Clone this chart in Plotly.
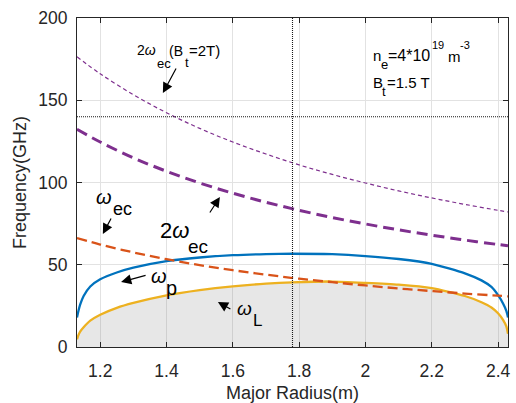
import plotly.graph_objects as go

# ---------------- data ----------------
# major radius samples for the plasma-frequency / L-cutoff curves
R_pl = [1.13, 1.135, 1.14, 1.15, 1.17, 1.2, 1.25, 1.3, 1.4, 1.5, 1.6, 1.7, 1.78,
        1.9, 2.0, 2.1, 2.2, 2.3, 2.35, 2.38, 2.40, 2.415, 2.425, 2.43]
f_p = [18.0, 22.5, 26.0, 31.0, 36.8, 41.2, 45.3, 48.2, 52.2, 54.4, 55.8, 56.5, 56.7,
       56.4, 55.3, 53.5, 50.6, 44.8, 40.5, 36.5, 31.5, 26.5, 22.0, 18.0]
f_L = [4.7, 7.5, 9.5, 12.0, 16.0, 19.6, 23.8, 26.8, 31.4, 34.6, 36.9, 38.5, 39.3,
       39.8, 39.0, 37.9, 35.8, 31.0, 27.2, 24.0, 20.5, 16.5, 12.5, 8.0]

# major radius samples for the cyclotron curves
R_ec = [1.13, 1.2, 1.3, 1.4, 1.5, 1.6, 1.7, 1.8, 1.9, 2.0, 2.1, 2.2, 2.3, 2.4, 2.43]
f_ec = [66.2, 62.3, 57.5, 53.4, 49.8, 46.7, 44.0, 41.5, 39.4, 37.4, 35.6, 34.0, 32.5, 31.2, 30.8]
f_2ec = [132.3, 124.6, 115.0, 106.8, 99.7, 93.5, 88.0, 83.1, 78.7, 74.8, 71.2, 68.0, 65.0, 62.3, 61.5]
f_2ec_2T = [176.4, 166.1, 153.4, 142.4, 132.9, 124.6, 117.3, 110.7, 104.9, 99.7, 94.9, 90.6, 86.7, 83.1, 82.1]

R0 = 1.78          # vertical dotted line
f_source = 140     # horizontal dotted line
x_range = [1.13, 2.43]
y_range = [0, 200]

x_ticks = [1.2, 1.4, 1.6, 1.8, 2.0, 2.2, 2.4]
x_ticklabels = ["1.2", "1.4", "1.6", "1.8", "2", "2.2", "2.4"]
y_ticks = [0, 50, 100, 150, 200]
y_ticklabels = ["0", "50", "100", "150", "200"]

# ---------------- styling ----------------
FONT = "Liberation Sans, Arial, Helvetica, sans-serif"
AX = "#262626"
BLUE = "#0072BD"
ORANGE = "#D95319"
YELLOW = "#EDB120"
PURPLE = "#7E2F8E"

fig = go.Figure()

# gray fill under the L-cutoff
fig.add_trace(go.Scatter(x=R_pl, y=f_L, mode="lines", line=dict(width=0, shape="spline", smoothing=0.6),
                         fill="tozeroy", fillcolor="rgba(120,120,120,0.18)", hoverinfo="skip"))
fig.add_trace(go.Scatter(x=R_pl, y=f_p, mode="lines",
                         line=dict(color=BLUE, width=2.3, shape="spline", smoothing=0.6)))
fig.add_trace(go.Scatter(x=R_pl, y=f_L, mode="lines",
                         line=dict(color=YELLOW, width=2.3, shape="spline", smoothing=0.6)))
fig.add_trace(go.Scatter(x=R_ec, y=f_ec, mode="lines",
                         line=dict(color=ORANGE, width=2.3, dash="10px,5px", shape="spline")))
fig.add_trace(go.Scatter(x=R_ec, y=f_2ec, mode="lines",
                         line=dict(color=PURPLE, width=3, dash="11px,6px", shape="spline")))
fig.add_trace(go.Scatter(x=R_ec, y=f_2ec_2T, mode="lines",
                         line=dict(color=PURPLE, width=1.2, dash="4px,3px", shape="spline")))
fig.add_trace(go.Scatter(x=[R0, R0], y=y_range, mode="lines",
                         line=dict(color="#1a1a1a", width=1.1, dash="1px,1px")))
fig.add_trace(go.Scatter(x=x_range, y=[f_source, f_source], mode="lines",
                         line=dict(color="#1a1a1a", width=1.1, dash="1px,1px")))

axis_common = dict(
    ticks="inside", ticklen=5, tickwidth=1, tickcolor=AX,
    showline=True, linecolor=AX, linewidth=1, mirror="ticks",
    showgrid=True, gridcolor="#E2E2E2", gridwidth=1, zeroline=False,
    automargin=False,
    tickfont=dict(family=FONT, size=17.5, color=AX),
)

fig.update_layout(
    width=516, height=403,
    margin=dict(l=77, r=8, t=18, b=56),
    paper_bgcolor="white", plot_bgcolor="white",
    showlegend=False,
    xaxis=dict(range=x_range, tickvals=x_ticks, ticktext=x_ticklabels,
               ticklabelstandoff=8,
               title=dict(text="Major Radius(m)", font=dict(family=FONT, size=18, color=AX), standoff=20),
               **axis_common),
    yaxis=dict(range=y_range, tickvals=y_ticks, ticktext=y_ticklabels,
               ticklabelstandoff=5,
               title=dict(text="Frequency(GHz)", font=dict(family=FONT, size=18, color=AX), standoff=6),
               **axis_common),
)


def add_label(x, y, pieces):
    for text, dx, dy, size in pieces:
        fig.add_annotation(x=x, y=y, text=text, xshift=dx, yshift=dy, xanchor="left", yanchor="middle",
                           showarrow=False, borderpad=0, borderwidth=0,
                           font=dict(family=FONT, size=size, color="black"))


def add_arrow(x, y, ax, ay):
    fig.add_annotation(x=x, y=y, ax=ax, ay=ay, text="", showarrow=True, arrowhead=2,
                       arrowsize=1.7, arrowwidth=1.2, arrowcolor="black", standoff=0)


# text labels
add_label(1.311, 180.5, [("2<i>ω</i>", 0, 0, 14), ("ec", 20, -13, 13), ("(B", 32, -1, 14),
                          ("t", 48, -12, 13), ("=2T)", 52, 0, 15)])
add_label(2.023, 176.9, [("n", 0, 1, 15), ("e", 8, -8, 13), ("=4*10", 15, 1, 16),
                          ("19", 59, 11, 11), ("m", 75, 0, 15), ("-3", 87, 11, 11)])
add_label(2.023, 160.8, [("B", 0, 0, 15), ("t", 9, -9, 13), ("=1.5 T", 14, 0, 15)])
add_label(1.187, 91.8, [("<i>ω</i>", 0, -1, 20), ("ec", 17, -13, 18)])
add_label(1.380, 71.1, [("2<i>ω</i>", 0, 0, 22), ("ec", 28, -16, 19)])
add_label(1.353, 43.8, [("<i>ω</i>", 0, -1, 20), ("p", 15, -13, 20)])
add_label(1.613, 24.3, [("<i>ω</i>", 0, -1, 19), ("L", 16, -13, 17)])

# arrows (tip in data coords, tail offset in px)
add_arrow(1.389, 154.4, 14, -26)
add_arrow(1.208, 68.7, 9, -17)
add_arrow(1.561, 91.2, -11, 17)
add_arrow(1.263, 39.5, 26, -7)
add_arrow(1.555, 27.4, 14, 8)

fig.write_html("out.html")
